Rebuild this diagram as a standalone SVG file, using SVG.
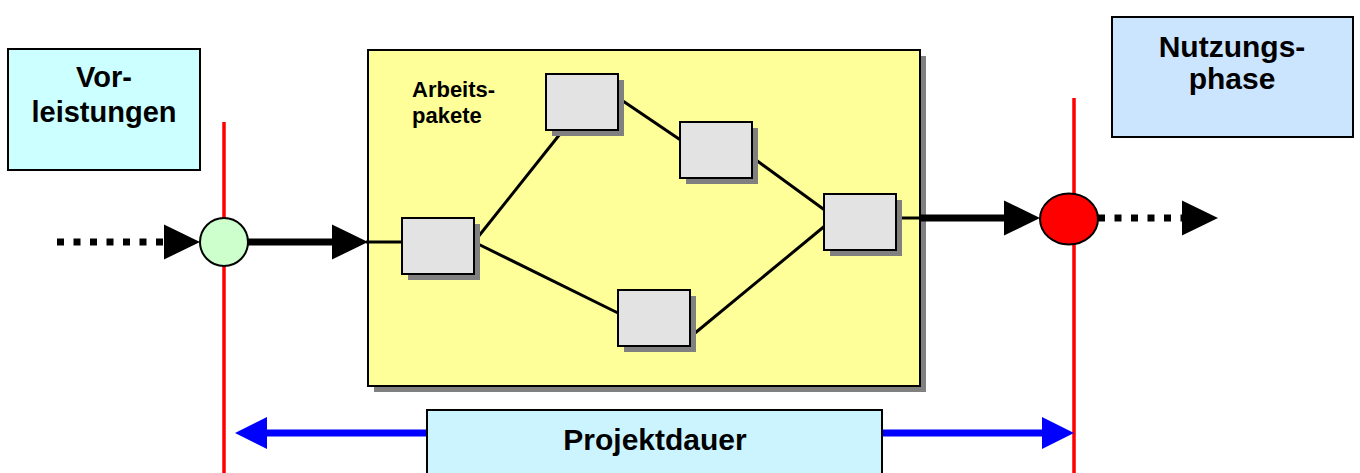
<svg xmlns="http://www.w3.org/2000/svg" width="1360" height="473" viewBox="0 0 1360 473">
  <style>
    .lbl { font-family: "Liberation Sans", Arial, sans-serif; font-weight: bold; fill: #000; }
    .box { stroke: #000; stroke-width: 2; }
    .task { fill: #e3e3e3; stroke: #000; stroke-width: 2; }
    .shadow { fill: #808080; }
    .milestone-line { stroke: #ff0000; stroke-width: 3.5; }
    .flow { stroke: #000; stroke-width: 7; fill: none; }
    .dotted { stroke: #000; stroke-width: 7; stroke-dasharray: 7 9.5; fill: none; }
    .link { stroke: #000; stroke-width: 3; fill: none; }
    .span { stroke: #0000ff; stroke-width: 7; fill: none; }
  </style>
  <defs>
    <marker id="arrow-black" markerUnits="userSpaceOnUse" markerWidth="37" markerHeight="36" refX="0" refY="17.5" orient="auto" overflow="visible">
      <path d="M0,0 L36,17.5 L0,35 Z" fill="#000"/>
    </marker>
    <marker id="arrow-blue" markerUnits="userSpaceOnUse" markerWidth="33" markerHeight="33" refX="0" refY="16" orient="auto-start-reverse" overflow="visible">
      <path d="M0,0 L32,16 L0,32 Z" fill="#0000ff"/>
    </marker>
    <g id="task-box">
      <rect class="shadow" x="6" y="6" width="72" height="56"/>
      <rect class="task" x="0" y="0" width="72" height="56"/>
    </g>
  </defs>

  <rect width="1360" height="473" fill="#ffffff"/>

  <!-- project start / end boundaries -->
  <g id="boundaries">
    <line class="milestone-line" x1="224" y1="122" x2="224" y2="473"/>
    <line class="milestone-line" x1="1074" y1="98" x2="1074" y2="473"/>
  </g>

  <!-- work package container -->
  <g id="arbeitspakete">
    <rect class="shadow" x="374" y="56" width="552" height="336"/>
    <rect class="box" x="368" y="50" width="552" height="336" fill="#ffff99"/>
    <text class="lbl" x="412" y="97" font-size="22">Arbeits-</text>
    <text class="lbl" x="412" y="123" font-size="22">pakete</text>
  </g>

  <g id="connectors">
    <!-- inflow -->
    <line class="dotted" x1="57" y1="242" x2="164" y2="242" marker-end="url(#arrow-black)"/>
    <line class="flow" x1="247" y1="242" x2="332" y2="242" marker-end="url(#arrow-black)"/>
    <line class="link" x1="366" y1="242" x2="404" y2="242"/>
    <!-- network of work packages -->
    <line class="link" x1="474" y1="242" x2="560" y2="134"/>
    <line class="link" x1="474" y1="242" x2="620" y2="314"/>
    <line class="link" x1="617" y1="97" x2="682" y2="141"/>
    <line class="link" x1="756" y1="160" x2="826" y2="211"/>
    <line class="link" x1="689" y1="338" x2="826" y2="225"/>
    <!-- outflow -->
    <line class="link" x1="898" y1="218" x2="922" y2="218"/>
    <line class="flow" x1="920" y1="218" x2="1004" y2="218" marker-end="url(#arrow-black)"/>
    <line class="dotted" x1="1098" y1="218" x2="1182" y2="218" marker-end="url(#arrow-black)"/>
    <!-- project duration span -->
    <line class="span" x1="267" y1="433" x2="1042" y2="433" marker-start="url(#arrow-blue)" marker-end="url(#arrow-blue)"/>
  </g>

  <g id="ap1"><use href="#task-box" x="402" y="218"/></g>
  <g id="ap2"><use href="#task-box" x="546" y="74"/></g>
  <g id="ap3"><use href="#task-box" x="680" y="122"/></g>
  <g id="ap4"><use href="#task-box" x="618" y="290"/></g>
  <g id="ap5"><use href="#task-box" x="824" y="194"/></g>

  <g id="start">
    <circle cx="224" cy="242" r="24" fill="#ccffcc" stroke="#000" stroke-width="2"/>
  </g>
  <g id="end">
    <ellipse cx="1069" cy="219" rx="29" ry="25.5" fill="#ff0000" stroke="#000" stroke-width="2"/>
  </g>

  <g id="vorleistungen">
    <rect class="box" x="8" y="49" width="192" height="121" fill="#ccffff"/>
    <text class="lbl" x="104" y="87" font-size="29" text-anchor="middle">Vor-</text>
    <text class="lbl" x="104" y="122" font-size="29" text-anchor="middle">leistungen</text>
  </g>

  <g id="nutzungsphase">
    <rect class="box" x="1112" y="17" width="241" height="120" fill="#cce5ff"/>
    <text class="lbl" x="1232" y="57" font-size="30" text-anchor="middle">Nutzungs-</text>
    <text class="lbl" x="1232" y="89" font-size="30" text-anchor="middle">phase</text>
  </g>

  <g id="projektdauer">
    <rect class="box" x="427" y="410" width="455" height="70" fill="#ccf4ff"/>
    <text class="lbl" x="655" y="450" font-size="30" text-anchor="middle">Projektdauer</text>
  </g>
</svg>
